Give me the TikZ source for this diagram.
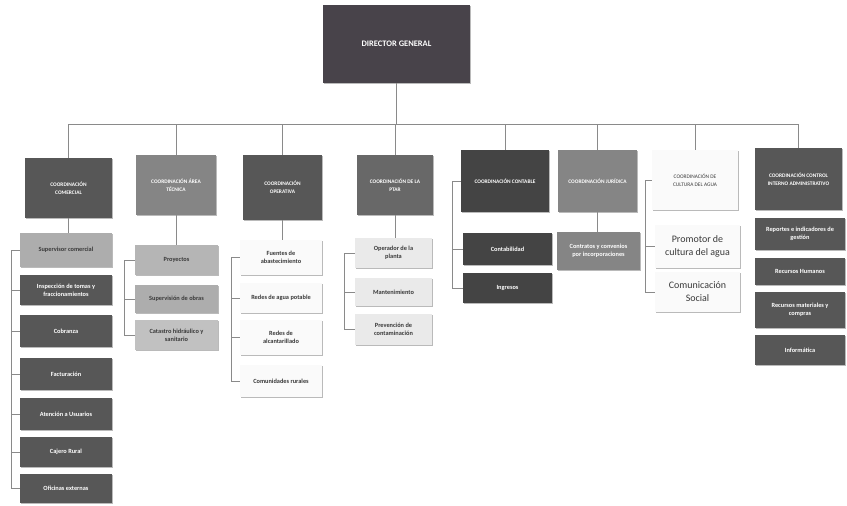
\documentclass[tikz,border=0pt]{standalone}
\usepackage{fontspec}
\setmainfont{Carlito}
\usepackage{xcolor}
\usepackage{tikz}
\usetikzlibrary{shadows}
\definecolor{topgray}{HTML}{48434A}
\definecolor{darkgray}{HTML}{575757}
\definecolor{deepgray}{HTML}{444444}
\definecolor{midgray}{HTML}{858585}
\definecolor{lightgray}{HTML}{ADADAD}
\definecolor{palegray}{HTML}{EAEAEA}
\definecolor{paper}{HTML}{FAFAFA}
\definecolor{wire}{HTML}{8A8A8A}
\definecolor{ink}{HTML}{3A3A3A}

\begin{document}
\begin{tikzpicture}[x=0.3mm,y=-0.3mm,
  box/.style 2 args={minimum width=#1*0.3mm,minimum height=#2*0.3mm,inner sep=1pt,align=center,
    drop shadow={shadow xshift=0.6pt,shadow yshift=-0.9pt,fill=black!45,opacity=0.6}},
  boss/.style={fill=topgray,text=white,font=\fontsize{7.2}{9}\selectfont\bfseries},
  head/.style={text=white,font=\fontsize{4.6}{7}\selectfont\bfseries},
  unit/.style={text=white,font=\fontsize{5.4}{7}\selectfont\bfseries},
  soft/.style={text=ink,font=\fontsize{5.4}{7}\selectfont\bfseries},
  big/.style={fill=paper,text=ink,font=\fontsize{8.5}{11}\selectfont},
  link/.style={draw=wire,line width=0.6pt}]
  \useasboundingbox (0,0) rectangle (847,505);

  % director
  \node[box={147}{78},boss] (dg) at (396.5,44) {DIRECTOR GENERAL};

  % coordinaciones
  \node[box={87}{60},head,fill=darkgray] (c1) at (68.5,188) {COORDINACIÓN\\COMERCIAL};
  \node[box={80}{60},head,fill=midgray] (c2) at (176,185) {COORDINACIÓN ÁREA\\TÉCNICA};
  \node[box={79}{65},head,fill=darkgray] (c3) at (282.5,187.5) {COORDINACIÓN\\OPERATIVA};
  \node[box={76}{60},head,fill=darkgray!90] (c4) at (395,185) {COORDINACIÓN DE LA\\PTAR};
  \node[box={88}{62},head,fill=deepgray] (c5) at (505,181) {COORDINACIÓN CONTABLE};
  \node[box={79}{62},head,fill=midgray] (c6) at (597.5,181) {COORDINACIÓN JURÍDICA};
  \node[box={86}{60},head,fill=paper,text=ink,font=\fontsize{4.6}{7}\selectfont] (c7) at (695,180) {COORDINACIÓN DE\\CULTURA DEL AGUA};
  \node[box={87}{62},head,fill=darkgray] (c8) at (798.5,179) {COORDINACIÓN CONTROL\\INTERNO ADMINISTRATIVO};

  \foreach \c in {c1,c2,c3,c4,c5,c6,c7,c8}
    \draw[link] (dg.south) -- ++(0,41) -| (\c.north);

  % comercial
  \node[box={92}{34},soft,fill=lightgray] (a1) at (66,250) {Supervisor comercial};
  \node[box={92}{30},unit,fill=darkgray] (a2) at (66,290) {Inspección de tomas y\\fraccionamientos};
  \node[box={92}{32},unit,fill=darkgray] (a3) at (66,331) {Cobranza};
  \node[box={92}{32},unit,fill=darkgray] (a4) at (66,374) {Facturación};
  \node[box={92}{32},unit,fill=darkgray] (a5) at (66,414) {Atención a Usuarios};
  \node[box={92}{30},unit,fill=darkgray] (a6) at (66,452) {Cajero Rural};
  \node[box={92}{29},unit,fill=darkgray] (a7) at (66,488.5) {Oficinas externas};
  \draw[link] (c1.south) -- (c1.south |- a1.north);
  \foreach \c in {a1,a2,a3,a4,a5,a6,a7}
    \draw[link] (a1.west) -- ++(-8,0) |- (\c.west);

  % tecnica
  \node[box={83}{30},soft,fill=lightgray!90] (b1) at (176.5,260) {Proyectos};
  \node[box={83}{28},soft,fill=lightgray] (b2) at (176.5,299) {Supervisión de obras};
  \node[box={83}{30},soft,fill=lightgray!75] (b3) at (176.5,335) {Catastro hidráulico y\\sanitario};
  \draw[link] (c2.south) -- (c2.south |- b1.north);
  \foreach \c in {b1,b2,b3}
    \draw[link] (b1.west) -- ++(-10,0) |- (\c.west);

  % operativa
  \node[box={82}{35},soft,fill=paper] (d1) at (281,257.5) {Fuentes de\\abastecimiento};
  \node[box={82}{30},soft,fill=paper] (d2) at (281,298) {Redes de agua potable};
  \node[box={82}{35},soft,fill=paper] (d3) at (281,337.5) {Redes de\\alcantarillado};
  \node[box={82}{32},soft,fill=paper] (d4) at (281,381) {Comunidades rurales};
  \draw[link] (c3.south) -- (c3.south |- d1.north);
  \foreach \c in {d1,d2,d3,d4}
    \draw[link] (d1.west) -- ++(-8,0) |- (\c.west);

  % ptar
  \node[box={77}{30},soft,fill=palegray] (e1) at (393.5,253) {Operador de la\\planta};
  \node[box={77}{28},soft,fill=palegray] (e2) at (393.5,292) {Mantenimiento};
  \node[box={77}{31},soft,fill=palegray] (e3) at (393.5,329.5) {Prevención de\\contaminación};
  \draw[link] (c4.south) -- (c4.south |- e1.north);
  \foreach \c in {e1,e2,e3}
    \draw[link] (e1.west) -- ++(-10,0) |- (\c.west);

  % contable
  \node[box={89}{32},unit,fill=deepgray] (f1) at (507.5,249) {Contabilidad};
  \node[box={89}{30},unit,fill=deepgray] (f2) at (507.5,288) {Ingresos};
  \foreach \c in {f1,f2}
    \draw[link] (c5.west) -- ++(-8,0) |- (\c.west);

  % juridica
  \node[box={83}{38},unit,fill=midgray] (g1) at (598.5,251) {Contratos y convenios\\por incorporaciones};
  \draw[link] (c6.south) -- (c6.south |- g1.north);

  % cultura del agua
  \node[box={85}{43},big] (h1) at (697.5,246.5) {Promotor de\\cultura del agua};
  \node[box={85}{40},big] (h2) at (697.5,292) {Comunicación\\Social};
  \foreach \c in {h1,h2}
    \draw[link] (c7.west) -- ++(-6,0) |- (\c.west);

  % control interno
  \node[box={90}{32},unit,fill=darkgray] (k1) at (800,234) {Reportes e indicadores de\\gestión};
  \node[box={90}{27},unit,fill=darkgray] (k2) at (800,271.5) {Recursos Humanos};
  \node[box={90}{36},unit,fill=darkgray] (k3) at (800,310) {Recursos materiales y\\compras};
  \node[box={90}{30},unit,fill=darkgray] (k4) at (800,350) {Informática};
\end{tikzpicture}
\end{document}
